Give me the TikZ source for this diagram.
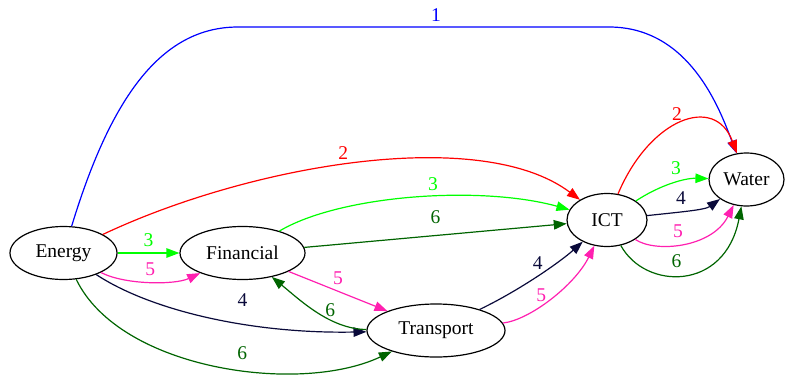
\documentclass[tikz,border=0pt]{standalone}
\usepackage{fontspec}
\setmainfont{Liberation Serif}
\usepackage{tikz}
\usetikzlibrary{shapes.geometric,arrows.meta}

\definecolor{navyline}{RGB}{10,10,58}
\definecolor{darkline}{RGB}{0,100,0}
\definecolor{pinkline}{RGB}{255,32,176}

\begin{document}
\begin{tikzpicture}[x=1pt,y=-1pt,
    font=\fontsize{19.5}{22}\selectfont,
    >={Triangle[length=13pt,width=9.5pt]},
    line width=1.2pt]
  \useasboundingbox (0,0) rectangle (795,378);

        \begin{scope}[every node/.style={ellipse,draw,black,inner sep=0pt,minimum height=53pt}]
          \node[minimum width=107pt] (en)  at (63.5,253)  {Energy};
          \node[minimum width=125pt] (fin) at (242.5,253) {Financial};
          \node[minimum width=138pt] (tr)  at (436,330.5) {Transport};
          \node[minimum width=80pt]  (ict) at (607,220)   {ICT};
          \node[minimum width=75pt]  (wa)  at (746.5,179.5) {Water};
        \end{scope}

        \begin{scope}[every node/.style={inner sep=1pt}, ->]
          % from Energy
          \draw[blue] (en) .. controls (110,100) and (160,27) .. (238,27)
            -- node[pos=.534,above=4pt] {1} (609,27)
            .. controls (690,27) and (720,110) .. (wa);
          \draw[red] (en) .. controls (250,165) and (480,125) .. node[pos=.47,above=4pt] {2} (ict);
          \draw[green] (en) -- node[above=5pt] {3} (fin);
          \draw[pinkline] (en) .. controls (125,285) and (175,285) .. node[above=5pt] {5} (fin);
          \draw[navyline] (en) .. controls (150,310) and (250,334) .. node[pos=.62,above=16pt] {4} (tr);
          \draw[darkline] (en) .. controls (120,370) and (300,395) .. node[pos=.57,above=9pt] {6} (tr);

          % from Financial and Transport
          \draw[green] (fin) .. controls (340,195) and (480,185) .. node[pos=.56,above=4pt] {3} (ict);
          \draw[darkline] (fin) -- node[above=10pt] {6} (ict);
          \draw[pinkline] (fin) -- node[above=5pt] {5} (tr);
          \draw[darkline] (tr) .. controls (330,329) and (300,300) .. node[pos=.35,above=2pt] {6} (fin);
          \draw[navyline] (tr) .. controls (520,290) and (560,262) .. node[above=5pt] {4} (ict);
          \draw[pinkline] (tr) .. controls (530,320) and (575,285) .. node[pos=.4,above=3pt] {5} (ict);

          % from ICT
          \draw[red] (ict) .. controls (650,118) and (715,94) .. node[pos=.47,above=2pt] {2} (wa);
          \draw[green] (ict) .. controls (660,185) and (685,178) .. node[pos=.55,above=6pt] {3} (wa);
          \draw[navyline] (ict) .. controls (680,212) and (705,210) .. node[pos=.38,above=6pt] {4} (wa);
          \draw[pinkline] (ict) .. controls (655,253) and (712,248) .. node[pos=.45,above=5pt] {5} (wa);
          \draw[darkline] (ict) .. controls (645,290) and (725,292) .. node[pos=.45,above=6pt] {6} (wa);
        \end{scope}
      \end{tikzpicture}
\end{document}
